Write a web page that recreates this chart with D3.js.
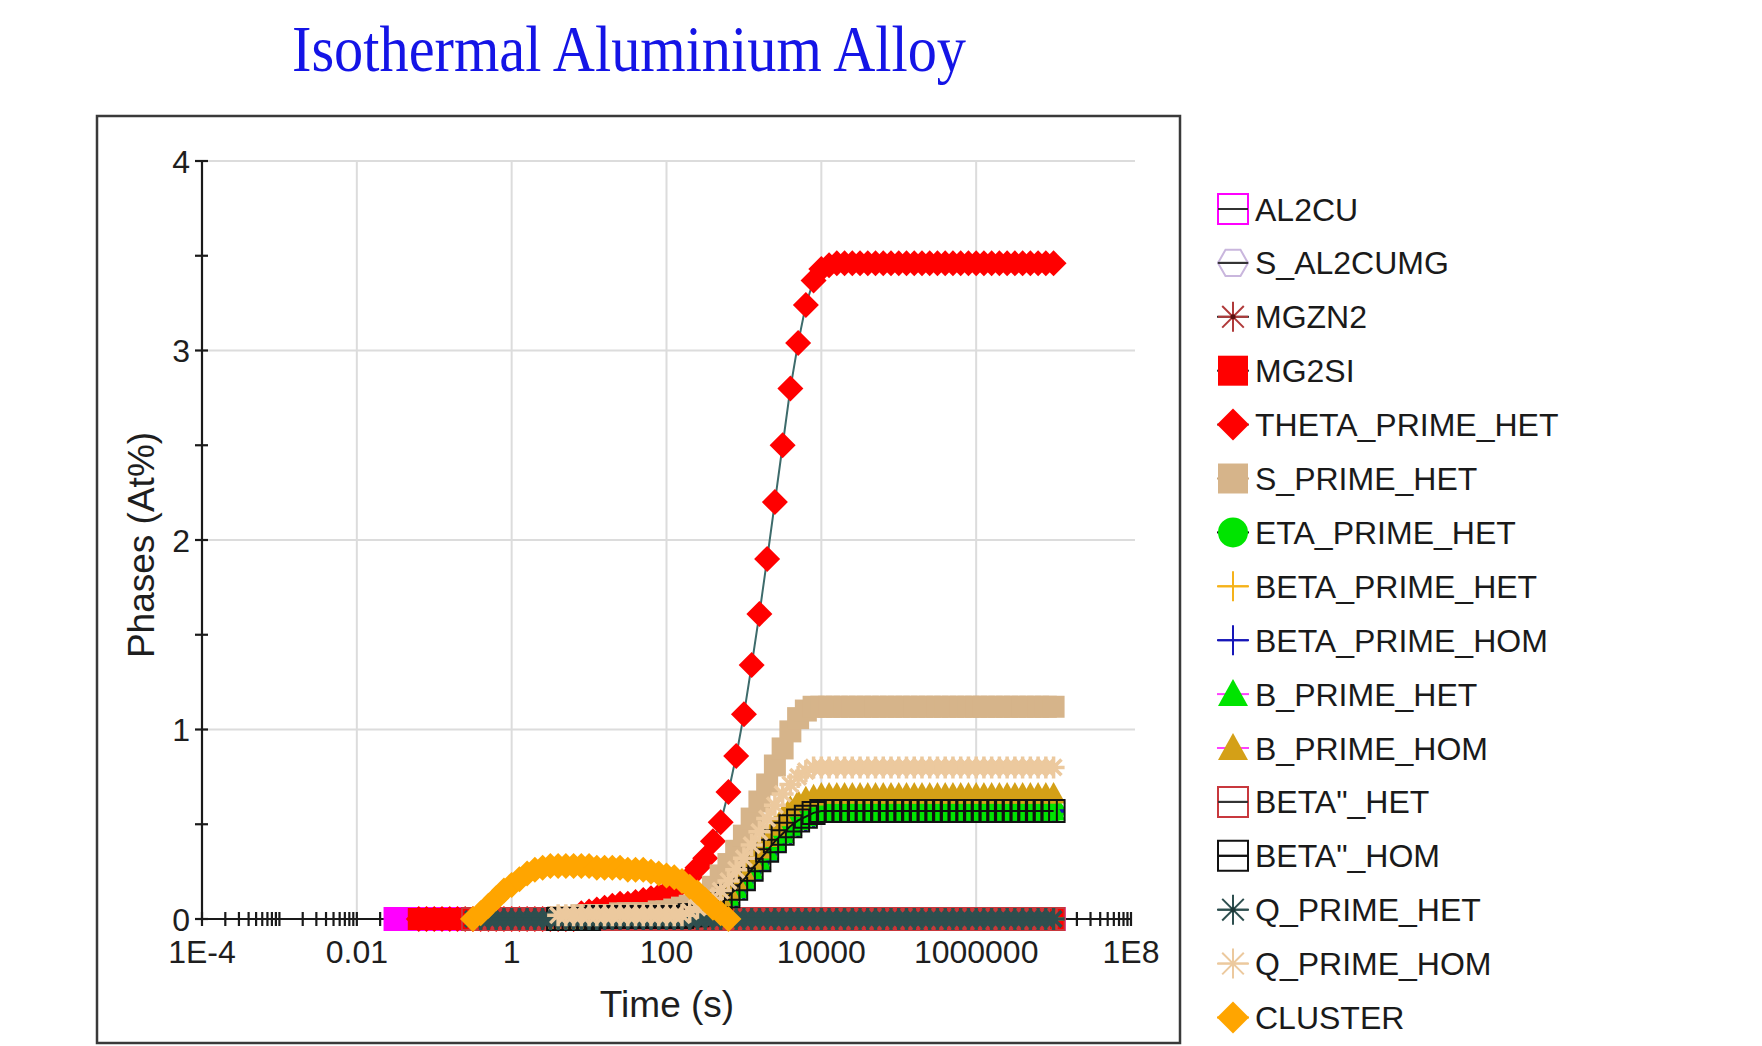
<!DOCTYPE html>
<html>
<head>
<meta charset="utf-8">
<script src="https://cdn.jsdelivr.net/npm/d3@7"></script>
<style>
  body { margin: 0; background: #fff; }
  text { font-family: "Liberation Sans", Arial, sans-serif; }
</style>
</head>
<body>
<svg id="chart" width="1762" height="1046"></svg>
<script>
// ---------------- DATA ----------------
// time points as powers of ten (s)
var timeExp = [
  -1.5,-1.4,-1.3,-1.2,-1.1,-1.0,-0.9,-0.8,-0.7,-0.6,
  -0.5,-0.4,-0.3,-0.2,-0.1, 0.0, 0.1, 0.2, 0.3, 0.4,
   0.5, 0.6, 0.7, 0.8, 0.9, 1.0, 1.1, 1.2, 1.3, 1.4,
   1.5, 1.6, 1.7, 1.8, 1.9, 2.0, 2.1, 2.2, 2.3, 2.4,
   2.5, 2.6, 2.7, 2.8, 2.9, 3.0, 3.1, 3.2, 3.3, 3.4,
   3.5, 3.6, 3.7, 3.8, 3.9, 4.0, 4.1, 4.2, 4.3, 4.4,
   4.5, 4.6, 4.7, 4.8, 4.9, 5.0, 5.1, 5.2, 5.3, 5.4,
   5.5, 5.6, 5.7, 5.8, 5.9, 6.0, 6.1, 6.2, 6.3, 6.4,
   6.5, 6.6, 6.7, 6.8, 6.9, 7.0];

var N = null;

var AL2CU = [
  0,0,0,0,0,0,0,0,0,0, 0,0,0,0,0,0,0,0,0,0, 0,0,0,0,0,0,0,0,0,0, 0,0,0,0,0,0,0,0,0,0,
  0,0,0,0,0,0,0,0,0,0, 0,0,0,0,0,0,0,0,0,0, 0,0,0,0,0,0,0,0,0,0, 0,0,0,0,0,0,0,0,0,0, 0,0,0,0,0,0];
var S_AL2CUMG = [
  N,N,N,0,0,0,0,0,0,0, 0,0,0,0,0,0,0,0,0,0, 0,0,0,0,0,0,0,0,0,0, 0,0,0,0,0,0,0,0,0,0,
  0,0,0,0,0,0,0,0,0,0, 0,0,0,0,0,0,0,0,0,0, 0,0,0,0,0,0,0,0,0,0, 0,0,0,0,0,0,0,0,0,0, 0,0,0,0,0,0];
var MGZN2 = [
  N,N,N,0,0,0,0,0,0,0, 0,0,0,0,0,0,0,0,0,0, 0,0,0,0,0,0,0,0,0,0, 0,0,0,0,0,0,0,0,0,0,
  0,0,0,0,0,0,0,0,0,0, 0,0,0,0,0,0,0,0,0,0, 0,0,0,0,0,0,0,0,0,0, 0,0,0,0,0,0,0,0,0,0, 0,0,0,0,0,0];
var MG2SI = [
  N,N,N,0,0,0,0,0,0,0, 0,0,0,0,0,0,0,0,0,0, 0,0,0,0,0,0,0,0,0,0, 0,0,0,0,0,0,0,0,0,0,
  0,0,0,0,0,0,0,0,0,0, 0,0,0,0,0,0,0,0,0,0, 0,0,0,0,0,0,0,0,0,0, 0,0,0,0,0,0,0,0,0,0, 0,0,0,0,0,0];
var THETA_PRIME_HET = [
  N,N,N,0,0,0,0,0,0,0,
  0,0,0,0,0,0,0,0,0,0,
  0,0,0,0,0.03,0.04,0.05,0.06,0.07,0.08,
  0.08,0.09,0.10,0.11,0.12,0.14,0.16,0.19,0.22,0.27,
  0.32,0.41,0.51,0.67,0.86,1.08,1.34,1.61,1.90,2.20,
  2.50,2.80,3.04,3.24,3.37,3.43,3.45,3.46,3.46,3.46,
  3.46,3.46,3.46,3.46,3.46,3.46,3.46,3.46,3.46,3.46,
  3.46,3.46,3.46,3.46,3.46,3.46,3.46,3.46,3.46,3.46,
  3.46,3.46,3.46,3.46,3.46,3.46];
var S_PRIME_HET = [
  N,N,N,N,N,N,N,N,N,N,
  N,N,N,N,N,N,N,N,N,N,
  N,0.01,0.01,0.01,0.02,0.02,0.02,0.02,0.02,0.03,
  0.03,0.03,0.03,0.03,0.04,0.04,0.05,0.06,0.07,0.09,
  0.12,0.17,0.23,0.29,0.36,0.44,0.53,0.62,0.71,0.81,
  0.90,0.99,1.06,1.10,1.12,1.12,1.12,1.12,1.12,1.12,
  1.12,1.12,1.12,1.12,1.12,1.12,1.12,1.12,1.12,1.12,
  1.12,1.12,1.12,1.12,1.12,1.12,1.12,1.12,1.12,1.12,
  1.12,1.12,1.12,1.12,1.12,1.12];
var ETA_PRIME_HET = [
  N,N,N,N,N,N,N,N,N,N,
  N,N,N,N,N,N,N,N,N,N,
  N,0,0,0,0,0,0.01,0.01,0.01,0.01,
  0.01,0.01,0.01,0.01,0.01,0.01,0.01,0.01,0.02,0.02,
  0.03,0.05,0.08,0.12,0.16,0.21,0.26,0.31,0.36,0.41,
  0.45,0.49,0.52,0.54,0.56,0.57,0.57,0.57,0.57,0.57,
  0.57,0.57,0.57,0.57,0.57,0.57,0.57,0.57,0.57,0.57,
  0.57,0.57,0.57,0.57,0.57,0.57,0.57,0.57,0.57,0.57,
  0.57,0.57,0.57,0.57,0.57,0.57];
var BETA_PRIME_HET = [
  N,N,N,N,N,N,N,N,N,N,
  N,N,N,N,N,N,N,N,N,N,
  N,0,0,0,0,0,0,0,0,0, 0,0,0,0,0,0,0,0,0,0, 0,0,0,0,0,0,0,0,0,0,
  0,0,0,0,0,0,0,0,0,0, 0,0,0,0,0,0,0,0,0,0, 0,0,0,0,0,0,0,0,0,0, 0,0,0,0,0,0];
var BETA_PRIME_HOM = [
  N,N,N,N,N,N,N,N,N,N,
  N,N,N,N,N,N,N,N,N,N,
  N,0,0,0,0,0,0,0,0,0.01,
  0.01,0.01,0.01,0.01,0.01,0.01,0.01,0.01,0.01,0.02,
  0.02,0.03,0.05,0.08,0.12,0.16,0.21,0.26,0.31,0.36,
  0.41,0.45,0.49,0.52,0.54,0.56,0.57,0.57,0.57,0.57,
  0.57,0.57,0.57,0.57,0.57,0.57,0.57,0.57,0.57,0.57,
  0.57,0.57,0.57,0.57,0.57,0.57,0.57,0.57,0.57,0.57,
  0.57,0.57,0.57,0.57,0.57,0.57];
var B_PRIME_HET = [
  N,N,N,N,N,N,N,N,N,N,
  N,N,N,N,N,N,N,N,N,N,
  N,0,0,0,0,0,0.01,0.01,0.01,0.01,
  0.01,0.01,0.01,0.01,0.01,0.01,0.01,0.01,0.02,0.02,
  0.03,0.05,0.08,0.12,0.16,0.21,0.26,0.31,0.36,0.41,
  0.45,0.49,0.52,0.54,0.56,0.57,0.57,0.57,0.57,0.57,
  0.57,0.57,0.57,0.57,0.57,0.57,0.57,0.57,0.57,0.57,
  0.57,0.57,0.57,0.57,0.57,0.57,0.57,0.57,0.57,0.57,
  0.57,0.57,0.57,0.57,0.57,0.57];
var B_PRIME_HOM = [
  N,N,N,N,N,N,N,N,N,N,
  N,N,N,N,N,N,N,N,N,N,
  N,0,0,0,0,0.01,0.01,0.01,0.01,0.01,
  0.01,0.01,0.01,0.01,0.01,0.01,0.01,0.02,0.02,0.03,
  0.05,0.08,0.11,0.15,0.20,0.25,0.31,0.37,0.43,0.49,
  0.54,0.59,0.62,0.64,0.65,0.66,0.66,0.66,0.66,0.66,
  0.66,0.66,0.66,0.66,0.66,0.66,0.66,0.66,0.66,0.66,
  0.66,0.66,0.66,0.66,0.66,0.66,0.66,0.66,0.66,0.66,
  0.66,0.66,0.66,0.66,0.66,0.66];
var BETA2_HET = [
  N,N,N,N,N,N,N,N,N,N,
  0,0,0,0,0,0,0,0,0,0, 0,0,0,0,0,0,0,0,0,0, 0,0,0,0,0,0,0,0,0,0, 0,0,0,0,0,0,0,0,0,0,
  0,0,0,0,0,0,0,0,0,0, 0,0,0,0,0,0,0,0,0,0, 0,0,0,0,0,0,0,0,0,0, 0,0,0,0,0,0];
var BETA2_HOM = [
  N,N,N,N,N,N,N,N,N,N,
  N,N,N,N,N,N,N,N,N,N,
  N,0,0,0,0,0,0.01,0.01,0.01,0.01,
  0.01,0.01,0.01,0.01,0.01,0.01,0.01,0.01,0.02,0.02,
  0.03,0.05,0.08,0.12,0.16,0.21,0.26,0.31,0.36,0.41,
  0.45,0.49,0.52,0.54,0.56,0.57,0.57,0.57,0.57,0.57,
  0.57,0.57,0.57,0.57,0.57,0.57,0.57,0.57,0.57,0.57,
  0.57,0.57,0.57,0.57,0.57,0.57,0.57,0.57,0.57,0.57,
  0.57,0.57,0.57,0.57,0.57,0.57];
var Q_PRIME_HET = [
  N,N,N,N,N,N,N,N,N,N,
  0,0,0,0,0,0,0,0,0,0, 0,0,0,0,0,0,0,0,0,0, 0,0,0,0,0,0,0,0,0,0, 0,0,0,0,0,0,0,0,0,0,
  0,0,0,0,0,0,0,0,0,0, 0,0,0,0,0,0,0,0,0,0, 0,0,0,0,0,0,0,0,0,0, 0,0,0,0,0,0];
var Q_PRIME_HOM = [
  N,N,N,N,N,N,N,N,N,N,
  N,N,N,N,N,N,N,N,N,N,
  N,0.02,0.02,0.02,0.02,0.02,0.02,0.02,0.02,0.02,
  0.02,0.02,0.02,0.02,0.02,0.02,0.02,0.02,0.04,0.06,
  0.08,0.11,0.15,0.20,0.26,0.32,0.39,0.46,0.53,0.60,
  0.66,0.71,0.75,0.78,0.80,0.80,0.80,0.80,0.80,0.80,
  0.80,0.80,0.80,0.80,0.80,0.80,0.80,0.80,0.80,0.80,
  0.80,0.80,0.80,0.80,0.80,0.80,0.80,0.80,0.80,0.80,
  0.80,0.80,0.80,0.80,0.80,0.80];
var CLUSTER = [
  N,N,N,N,N,N,N,N,N,N,
  0,0.03,0.07,0.11,0.15,0.18,0.21,0.24,0.26,0.27,
  0.28,0.28,0.28,0.28,0.28,0.28,0.27,0.27,0.27,0.27,
  0.26,0.26,0.26,0.25,0.24,0.23,0.22,0.20,0.17,0.14,
  0.10,0.06,0.03,0,N,N,N,N,N,N,
  N,N,N,N,N,N,N,N,N,N, N,N,N,N,N,N,N,N,N,N, N,N,N,N,N,N,N,N,N,N, N,N,N,N,N,N];

var seriesNames = ["AL2CU","S_AL2CUMG","MGZN2","MG2SI","THETA_PRIME_HET","S_PRIME_HET",
  "ETA_PRIME_HET","BETA_PRIME_HET","BETA_PRIME_HOM","B_PRIME_HET","B_PRIME_HOM",
  "BETA\"_HET","BETA\"_HOM","Q_PRIME_HET","Q_PRIME_HOM","CLUSTER"];
var seriesValues = [AL2CU, S_AL2CUMG, MGZN2, MG2SI, THETA_PRIME_HET, S_PRIME_HET,
  ETA_PRIME_HET, BETA_PRIME_HET, BETA_PRIME_HOM, B_PRIME_HET, B_PRIME_HOM,
  BETA2_HET, BETA2_HOM, Q_PRIME_HET, Q_PRIME_HOM, CLUSTER];

var xTickValues = [1e-4, 1e-2, 1, 1e2, 1e4, 1e6, 1e8];
var xTickLabels = ["1E-4", "0.01", "1", "100", "10000", "1000000", "1E8"];
var yTickValues = [0, 1, 2, 3, 4];

// ---------------- STYLES ----------------
// shape, stroke colour, fill, line colour  (one per series)
var styles = [
  {shape: "boxline", stroke: "#ff00ff", fill: "#ff00ff", lfill: "#fff", line: "#333"},
  {shape: "hex",     stroke: "#c9b6dd", fill: "#fff",    lfill: "#fff", line: "#333"},
  {shape: "star",    stroke: "#b03a3a", fill: "none",    lfill: "none", line: "#333", dot: "#5a1010"},
  {shape: "square",  stroke: "none",    fill: "#ff0000", lfill: "#ff0000", line: "#333"},
  {shape: "diamond", stroke: "none",    fill: "#ff0000", lfill: "#ff0000", line: "#3d6b6b"},
  {shape: "square",  stroke: "none",    fill: "#d6b48a", lfill: "#d6b48a", line: "#c9a77c"},
  {shape: "circle",  stroke: "none",    fill: "#00e400", lfill: "#00e400", line: "#111"},
  {shape: "plus",    stroke: "#f5b21a", fill: "none",    lfill: "none", line: "#f5b21a"},
  {shape: "plus",    stroke: "#1616b8", fill: "none",    lfill: "none", line: "#1616b8"},
  {shape: "tri",     stroke: "none",    fill: "#00e400", lfill: "#00e400", line: "#ff40ff"},
  {shape: "tri",     stroke: "none",    fill: "#d4a017", lfill: "#d4a017", line: "#ff40ff"},
  {shape: "boxline", stroke: "#c8383d", fill: "none",    lfill: "none", line: "#333"},
  {shape: "boxline", stroke: "#111",    fill: "none",    lfill: "none", line: "#111"},
  {shape: "star",    stroke: "#2e4f4f", fill: "none",    lfill: "none", line: "#2e4f4f", dot: "#1e3838"},
  {shape: "star",    stroke: "#ecc99e", fill: "none",    lfill: "none", line: "#ecc99e"},
  {shape: "diamond", stroke: "none",    fill: "#ffa500", lfill: "#ffa500", line: "#ffa500"}
];

function shapePath(shape, r) {
  var d = r * 0.72, h = r * 0.87;
  switch (shape) {
    case "square": case "boxline":
      return "M" + (-r) + "," + (-r) + "H" + r + "V" + r + "H" + (-r) + "Z";
    case "diamond":
      return "M0," + (-r) + "L" + r + ",0L0," + r + "L" + (-r) + ",0Z";
    case "circle":
      return "M" + (-r) + ",0A" + r + "," + r + " 0 1,0 " + r + ",0A" + r + "," + r + " 0 1,0 " + (-r) + ",0Z";
    case "tri":
      return "M0," + (-r) + "L" + r + "," + (r * 0.8) + "L" + (-r) + "," + (r * 0.8) + "Z";
    case "hex":
      return "M" + (-r) + ",0L" + (-r / 2) + "," + (-h) + "H" + (r / 2) + "L" + r + ",0L" + (r / 2) + "," + h + "H" + (-r / 2) + "Z";
    case "plus":
      return "M" + (-r) + ",0H" + r + "M0," + (-r) + "V" + r;
    case "star":
      return "M" + (-r) + ",0H" + r + "M0," + (-r) + "V" + r +
             "M" + (-d) + "," + (-d) + "L" + d + "," + d + "M" + (-d) + "," + d + "L" + d + "," + (-d);
  }
}
var markerR = {square: 11, boxline: 11, diamond: 13, circle: 11, tri: 12, hex: 11, plus: 11, star: 11};

// ---------------- LAYOUT ----------------
var svg = d3.select("#chart");
var plot = {left: 202, right: 1131, top: 161, bottom: 919};

var x = d3.scaleLog().domain([1e-4, 1e8]).range([plot.left, plot.right]);
var y = d3.scaleLinear().domain([0, 4]).range([plot.bottom, plot.top]);

svg.append("rect").attr("width", 1762).attr("height", 1046).attr("fill", "#fff");

// frame
svg.append("rect")
    .attr("x", 97).attr("y", 116).attr("width", 1083).attr("height", 927)
    .attr("fill", "none").attr("stroke", "#3a3a3a").attr("stroke-width", 2.5);

// title
svg.append("text")
    .attr("x", 292).attr("y", 71)
    .attr("textLength", 674).attr("lengthAdjust", "spacingAndGlyphs")
    .style("font-family", "'Liberation Serif', 'Times New Roman', serif")
    .style("font-size", "65px")
    .attr("fill", "#1414e6")
    .text("Isothermal  Aluminium  Alloy");

// grid
var grid = svg.append("g").attr("stroke", "#dcdcdc").attr("stroke-width", 2);
grid.selectAll(".gx").data(xTickValues.slice(1, -1)).enter().append("line")
    .attr("x1", d => x(d)).attr("x2", d => x(d))
    .attr("y1", plot.top).attr("y2", plot.bottom);
grid.selectAll(".gy").data(yTickValues.slice(1)).enter().append("line")
    .attr("x1", plot.left).attr("x2", plot.right + 4)
    .attr("y1", d => y(d)).attr("y2", d => y(d));

// axes
var axes = svg.append("g").attr("stroke", "#1a1a1a").attr("stroke-width", 2.2);
axes.append("line").attr("x1", plot.left).attr("x2", plot.left).attr("y1", plot.top).attr("y2", plot.bottom);
axes.append("line").attr("x1", plot.left).attr("x2", plot.right).attr("y1", plot.bottom).attr("y2", plot.bottom);

var minorX = [];
for (var e = -4; e < 8; e++) for (var k = 1; k < 10; k++) minorX.push(k * Math.pow(10, e));
minorX.push(1e8);
axes.selectAll(".tx").data(minorX).enter().append("line")
    .attr("x1", d => x(d)).attr("x2", d => x(d))
    .attr("y1", plot.bottom - 7).attr("y2", plot.bottom + 7);
axes.selectAll(".ty").data(y.ticks(8)).enter().append("line")
    .attr("x1", plot.left - 7).attr("x2", plot.left + 6)
    .attr("y1", d => y(d)).attr("y2", d => y(d));

// series
var line = d3.line()
    .defined(d => d.v != null)
    .x(d => x(Math.pow(10, d.t)))
    .y(d => y(d.v));

var layer = svg.append("g");
seriesValues.forEach(function(vals, i) {
  var st = styles[i];
  var pts = vals.map((v, j) => ({t: timeExp[j], v: v}));
  var g = layer.append("g");
  g.append("path").datum(pts)
      .attr("d", line).attr("fill", "none")
      .attr("stroke", st.line).attr("stroke-width", 2);
  var r = markerR[st.shape];
  var open = (st.shape === "plus" || st.shape === "star");
  g.selectAll("path.m").data(pts.filter(d => d.v != null)).enter().append("path")
      .attr("class", "m")
      .attr("transform", d => "translate(" + x(Math.pow(10, d.t)) + "," + y(d.v) + ")")
      .attr("d", shapePath(st.shape, r))
      .attr("fill", open ? "none" : st.fill)
      .attr("stroke", st.stroke)
      .attr("stroke-width", open ? 3.5 : 2);
});

// tick labels
var labels = svg.append("g").attr("fill", "#1e1e1e").style("font-size", "32px");
labels.selectAll(".lx").data(xTickValues).enter().append("text")
    .attr("x", d => x(d)).attr("y", 963)
    .attr("text-anchor", "middle")
    .text((d, i) => xTickLabels[i]);
labels.selectAll(".ly").data(yTickValues).enter().append("text")
    .attr("x", 190).attr("y", d => y(d)).attr("dy", "0.36em")
    .attr("text-anchor", "end")
    .text(d => d);

// axis titles
svg.append("text")
    .attr("x", 667).attr("y", 1017).attr("text-anchor", "middle")
    .attr("fill", "#1e1e1e").style("font-size", "37px")
    .text("Time (s)");
svg.append("text")
    .attr("transform", "translate(154,545) rotate(-90)")
    .attr("text-anchor", "middle")
    .attr("fill", "#1e1e1e").style("font-size", "37px")
    .text("Phases (At%)");

// legend
var legend = svg.append("g").attr("transform", "translate(1233,209)");
var rowH = 53.9;
seriesNames.forEach(function(name, i) {
  var st = styles[i];
  var g = legend.append("g").attr("transform", "translate(0," + (i * rowH) + ")");
  g.append("line").attr("x1", -16).attr("x2", 16)
      .attr("stroke", st.line).attr("stroke-width", 2);
  var open = (st.shape === "plus" || st.shape === "star");
  g.append("path")
      .attr("d", shapePath(st.shape, st.shape === "diamond" ? 16 : 15))
      .attr("fill", open ? "none" : st.lfill)
      .attr("fill-opacity", st.lfill === "#fff" ? 0 : 1)
      .attr("stroke", st.stroke)
      .attr("stroke-width", 2);
  if (st.shape === "boxline" || st.shape === "hex")
    g.append("line").attr("x1", -15).attr("x2", 15).attr("stroke", st.line).attr("stroke-width", 2);
  if (st.dot)
    g.append("circle").attr("r", 2.5).attr("fill", st.dot);
  g.append("text")
      .attr("x", 22).attr("dy", "0.36em")
      .attr("fill", "#1a1a1a").style("font-size", "32px")
      .text(name);
});
</script>
</body>
</html>
